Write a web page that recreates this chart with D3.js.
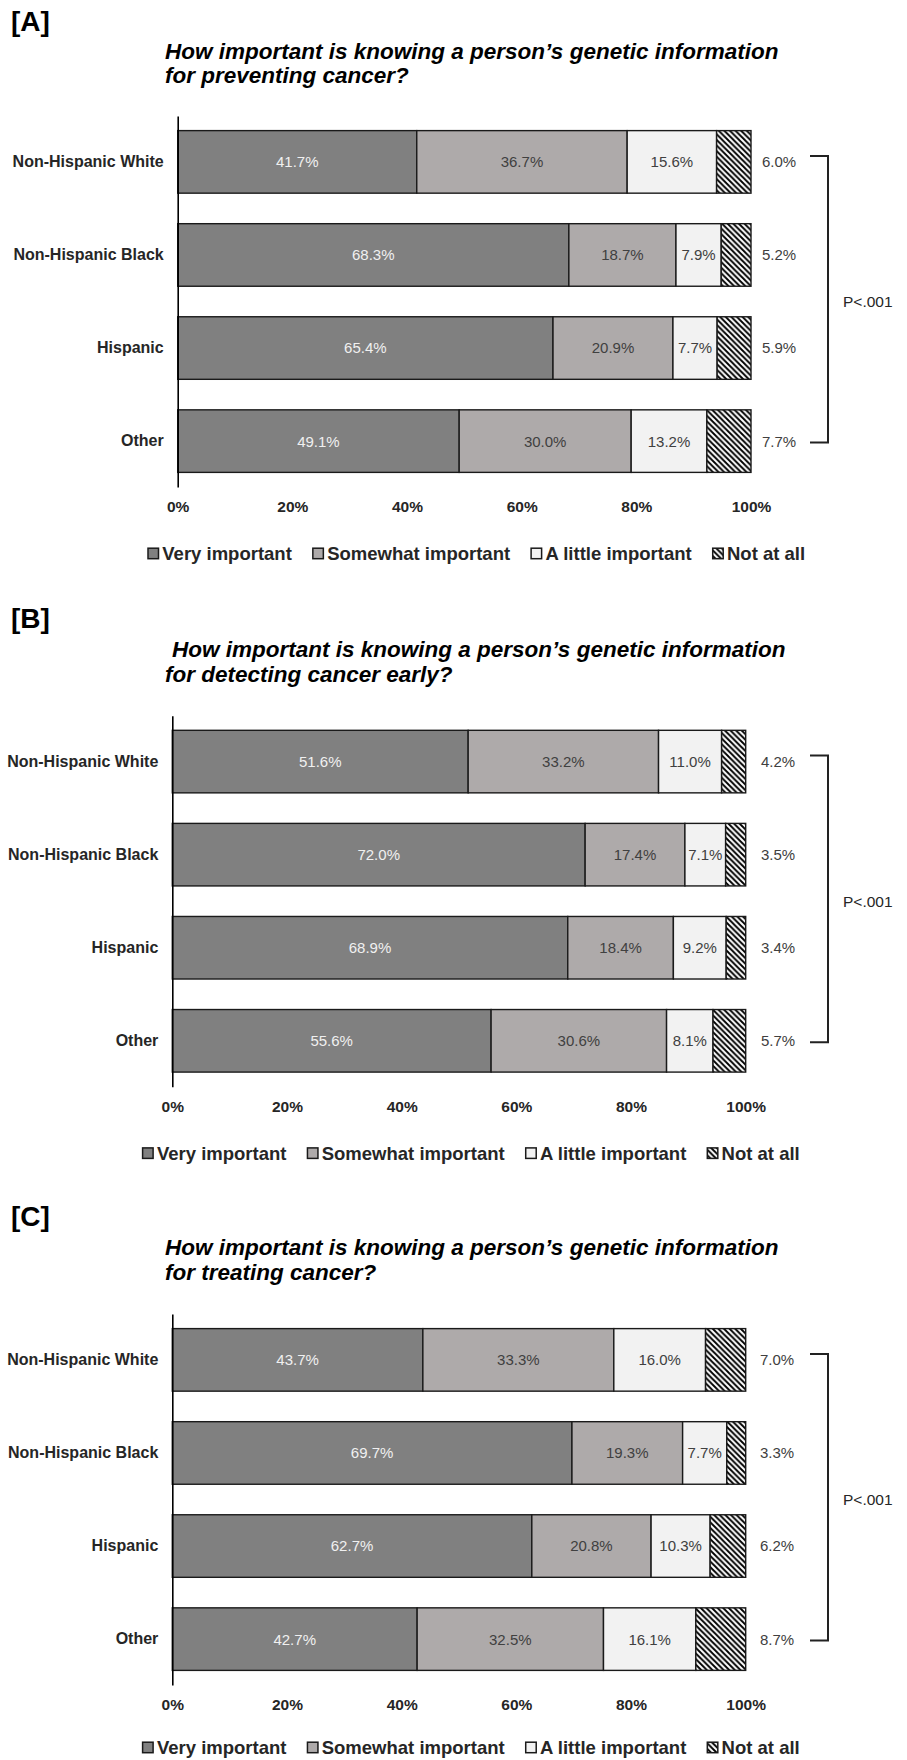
<!DOCTYPE html>
<html>
<head>
<meta charset="utf-8">
<script src="https://cdn.jsdelivr.net/npm/d3@7"></script>
<style>
  body { margin: 0; background: #fff; }
  text { font-family: "Liberation Sans", Arial, Helvetica, sans-serif; }
</style>
</head>
<body>
<div id="chart"></div>
<script>
// categories and answer levels
const categories = ['Non-Hispanic White', 'Non-Hispanic Black', 'Hispanic', 'Other'];
const responses = ['Very important', 'Somewhat important', 'A little important', 'Not at all'];

// percentages per category, in the order of responses
const preventing = [[41.7, 36.7, 15.6, 6.0], [68.3, 18.7, 7.9, 5.2], [65.4, 20.9, 7.7, 5.9], [49.1, 30.0, 13.2, 7.7]];
const detecting = [[51.6, 33.2, 11.0, 4.2], [72.0, 17.4, 7.1, 3.5], [68.9, 18.4, 9.2, 3.4], [55.6, 30.6, 8.1, 5.7]];
const treating = [[43.7, 33.3, 16.0, 7.0], [69.7, 19.3, 7.7, 3.3], [62.7, 20.8, 10.3, 6.2], [42.7, 32.5, 16.1, 8.7]];

const panelLetters = ['[A]', '[B]', '[C]'];
const titlesA = ['How important is knowing a person\u2019s genetic information', 'for preventing cancer?'];
const titlesB = ['How important is knowing a person\u2019s genetic information', 'for detecting cancer early?'];
const titlesC = ['How important is knowing a person\u2019s genetic information', 'for treating cancer?'];
const tickValues = [0, 0.2, 0.4, 0.6, 0.8, 1];
const pValue = 'P<.001';

const fills = ['#808080', '#aeaaaa', '#f2f2f2', 'url(#hatch)'];

// panel placement
const panels = [
    { letter: panelLetters[0], titles: titlesA, data: preventing, letterY: 31, titleX: [165, 165], titleY: [59, 83], x0: 177.7, x1: 751, top: 116, rightX: 779, legendGap: 66.5 },
    { letter: panelLetters[1], titles: titlesB, data: detecting, letterY: 628, titleX: [172, 165], titleY: [657, 682], x0: 172.3, x1: 745.7, top: 715.7, rightX: 778, legendGap: 66.5 },
    { letter: panelLetters[2], titles: titlesC, data: treating, letterY: 1226, titleX: [165, 165], titleY: [1255, 1280], x0: 172.3, x1: 745.7, top: 1314, rightX: 777, legendGap: 62.5 }
];
const plotHeight = 371;

const svg = d3.select('#chart').append('svg')
    .attr('width', 907)
    .attr('height', 1760);

svg.append('rect').attr('width', 907).attr('height', 1760).attr('fill', '#fff');

// diagonal hatch for "Not at all"
const hp = 5.6;
const pattern = svg.append('defs').append('pattern')
    .attr('id', 'hatch')
    .attr('patternUnits', 'userSpaceOnUse')
    .attr('width', hp)
    .attr('height', hp);
pattern.append('rect').attr('width', hp).attr('height', hp).attr('fill', '#fff');
pattern.append('path')
    .attr('d', `M-1,-1L${hp + 1},${hp + 1}M-1,${hp - 1}L1,${hp + 1}M${hp - 1},-1L${hp + 1},1`)
    .attr('stroke', '#000')
    .attr('stroke-width', 1.9);

panels.forEach(drawPanel);

function drawPanel(p) {
    const g = svg.append('g');

    g.append('text')
        .attr('x', 11)
        .attr('y', p.letterY)
        .attr('font-size', 28)
        .attr('font-weight', 'bold')
        .attr('fill', '#000')
        .text(p.letter);

    g.selectAll('.title')
        .data(p.titles)
        .enter()
        .append('text')
        .attr('class', 'title')
        .attr('x', (d, i) => p.titleX[i])
        .attr('y', (d, i) => p.titleY[i])
        .attr('font-size', 22.5)
        .attr('font-weight', 'bold')
        .attr('font-style', 'italic')
        .attr('fill', '#000')
        .text(d => d);

    const x = d3.scaleLinear().domain([0, 1]).range([p.x0, p.x1]);
    const y = d3.scaleBand()
        .domain(categories)
        .range([p.top, p.top + plotHeight])
        .paddingInner(0.328)
        .paddingOuter(0.157);

    const rows = p.data.map((values, i) => {
        const row = { category: categories[i] };
        responses.forEach((r, j) => { row[r] = values[j]; });
        return row;
    });
    const series = d3.stack().keys(responses).offset(d3.stackOffsetExpand)(rows);

    const layers = g.selectAll('.layer')
        .data(series)
        .enter()
        .append('g')
        .attr('class', 'layer')
        .attr('fill', (d, i) => fills[i]);

    layers.selectAll('rect')
        .data(d => d)
        .enter()
        .append('rect')
        .attr('x', d => x(d[0]))
        .attr('y', d => y(d.data.category))
        .attr('width', d => x(d[1]) - x(d[0]))
        .attr('height', y.bandwidth())
        .attr('stroke', '#1a1a1a')
        .attr('stroke-width', 1.4);

    // labels inside the bars, last level goes to the right
    series.forEach((s, i) => {
        g.selectAll('.lab' + i)
            .data(s)
            .enter()
            .append('text')
            .attr('x', d => i < 3 ? (x(d[0]) + x(d[1])) / 2 : p.rightX)
            .attr('y', d => y(d.data.category) + y.bandwidth() / 2)
            .attr('dy', '0.36em')
            .attr('text-anchor', 'middle')
            .attr('font-size', 15)
            .attr('fill', i === 0 ? '#f0f0f0' : '#404040')
            .text(d => d.data[s.key].toFixed(1) + '%');
    });

    const yAxis = g.append('g')
        .attr('transform', `translate(${p.x0},0)`)
        .call(d3.axisLeft(y).tickSize(0).tickSizeOuter(0).tickPadding(14));
    yAxis.select('.domain').attr('stroke', '#000').attr('stroke-width', 1.6);
    yAxis.selectAll('text')
        .attr('font-size', 16)
        .attr('font-weight', 'bold')
        .attr('fill', '#262626');

    const xAxis = g.append('g')
        .attr('transform', `translate(0,${p.top + plotHeight})`)
        .call(d3.axisBottom(x).tickValues(tickValues).tickFormat(d3.format('.0%')).tickSize(0).tickPadding(14));
    xAxis.select('.domain').remove();
    xAxis.selectAll('text')
        .attr('font-size', 15.5)
        .attr('font-weight', 'bold')
        .attr('fill', '#262626');

    // significance bracket
    const yTop = y(categories[0]) + y.bandwidth() / 2 - 6;
    const yBottom = y(categories[3]) + y.bandwidth() / 2 + 1.5;
    g.append('path')
        .attr('d', `M810,${yTop}H828V${yBottom}H810`)
        .attr('fill', 'none')
        .attr('stroke', '#222')
        .attr('stroke-width', 2);
    g.append('text')
        .attr('x', 843)
        .attr('y', (yTop + yBottom) / 2 + 2)
        .attr('dy', '0.36em')
        .attr('font-size', 15.5)
        .attr('fill', '#262626')
        .text(pValue);

    // legend
    const legendY = p.top + plotHeight + p.legendGap;
    let lx = p.x0 - 29.7;
    responses.forEach((r, i) => {
        g.append('rect')
            .attr('x', lx)
            .attr('y', legendY - 5.3)
            .attr('width', 10.5)
            .attr('height', 10.5)
            .attr('fill', fills[i])
            .attr('stroke', '#1a1a1a')
            .attr('stroke-width', 1.5);
        const t = g.append('text')
            .attr('x', lx + 14.3)
            .attr('y', legendY)
            .attr('dy', '0.36em')
            .attr('font-size', 18.5)
            .attr('font-weight', 'bold')
            .attr('fill', '#262626')
            .text(r);
        lx += 14.3 + t.node().getComputedTextLength() + 21;
    });
}
</script>
</body>
</html>
